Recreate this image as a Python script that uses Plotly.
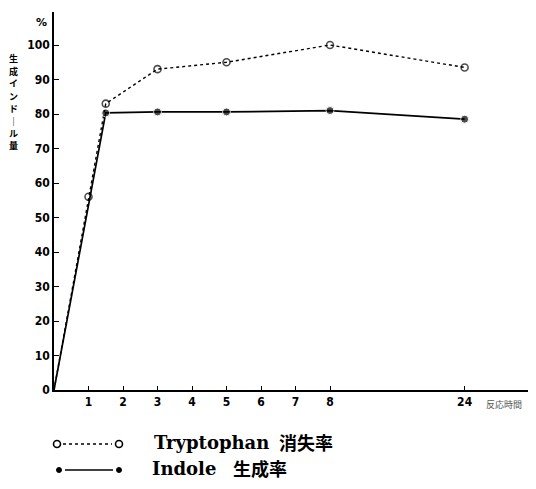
import plotly.graph_objects as go

# ---- data ----
hours_trp = [0, 1, 1.5, 3, 5, 8, 24]
trp_loss = [0, 56, 83, 93, 95, 100, 93.5]          # Tryptophan 消失率 (%)
hours_ind = [0, 1.5, 3, 5, 8, 24]
ind_form = [0, 80.3, 80.6, 80.6, 81, 78.5]          # Indole 生成率 (%)
x_ticks = [1, 2, 3, 4, 5, 6, 7, 8, 24]
y_ticks = [0, 10, 20, 30, 40, 50, 60, 70, 80, 90, 100]
y_title = "生成インド｜ル量"

# broken time axis: beyond 8 h the scale is compressed
def pos(h):
    return h if h <= 8 else 8 + (h - 8) / 4.1

OFF = 8                       # default page body margin
W, H = 536 - 2 * OFF, 489 - 2 * OFF
# plot area in page pixels: x 54..528, y 12..390
L, T = 54 - OFF, 12 - OFF
R = 0
B = H - (390 - OFF)
pw, ph = W - L - R, H - T - B

fig = go.Figure()
fig.add_trace(go.Scatter(
    x=[pos(h) for h in hours_trp], y=trp_loss, mode="lines+markers",
    line=dict(color="black", width=1.4, dash="dot"),
    marker=dict(symbol="circle-open", size=[0] + [7] * (len(hours_trp) - 1),
                color="black", line=dict(width=1.6)),
    showlegend=False))
fig.add_trace(go.Scatter(
    x=[pos(h) for h in hours_ind], y=ind_form, mode="lines+markers",
    line=dict(color="black", width=1.7),
    marker=dict(symbol="circle", size=[0] + [8] * (len(hours_ind) - 1), color="black"),
    showlegend=False))

tf = dict(family="DejaVu Sans Condensed", size=12, color="black", weight="bold")
fig.update_xaxes(range=[0, (528 - 54) / 34.5], tickvals=[pos(h) for h in x_ticks],
                 ticktext=[str(h) for h in x_ticks], ticks="inside", ticklen=4,
                 tickcolor="black", showline=True, linecolor="black", linewidth=1.5,
                 showgrid=False, zeroline=False, tickfont=tf)
fig.update_yaxes(range=[0, (390 - 12) / 3.45], tickvals=y_ticks, ticks="inside", ticklen=5,
                 tickcolor="black", showline=True, linecolor="black", linewidth=1.5,
                 showgrid=False, zeroline=False, tickfont=tf)

def px_x(p):
    return (p - OFF - L) / pw

def px_y(p):
    return (H - B - (p - OFF)) / ph

def note(xp, yp, text, font, xanchor="center"):
    return dict(x=px_x(xp), y=px_y(yp), xref="paper", yref="paper", text=text,
                showarrow=False, xanchor=xanchor, yanchor="middle", font=font)

ann = []
ann.append(note(41, 22, "<b>%</b>", dict(family="DejaVu Sans", size=11, color="black")))
for i, ch in enumerate(y_title):
    ann.append(note(13, 59 + i * 12.4, "<b>" + ch + "</b>",
                    dict(family="Noto Sans CJK JP", size=9, color="black")))
ann.append(note(484, 404, "反応時間", dict(family="Noto Sans CJK JP", size=9, color="#555"),
                xanchor="left"))
lat = dict(family="DejaVu Serif", size=18, color="black")
cjk = dict(family="Noto Sans CJK JP", size=18, color="black")
ann.append(note(152, 442, "<b>Tryptophan</b>", lat, xanchor="left"))
ann.append(note(277, 442, "<b>消失率</b>", cjk, xanchor="left"))
ann.append(note(150, 468, "<b>Indole</b>", lat, xanchor="left"))
ann.append(note(231, 468, "<b>生成率</b>", cjk, xanchor="left"))

shapes = []
# legend samples
shapes.append(dict(type="line", xref="paper", yref="paper", x0=px_x(63), x1=px_x(112),
                   y0=px_y(444), y1=px_y(444), line=dict(color="black", width=1.5, dash="dot")))
for cx in (57, 119):
    shapes.append(dict(type="circle", xref="paper", yref="paper",
                       x0=px_x(cx - 3.5), x1=px_x(cx + 3.5), y0=px_y(447.5), y1=px_y(440.5),
                       line=dict(color="black", width=1.6)))
shapes.append(dict(type="line", xref="paper", yref="paper", x0=px_x(65), x1=px_x(113),
                   y0=px_y(470), y1=px_y(470), line=dict(color="black", width=1.6)))
for cx in (59, 119):
    shapes.append(dict(type="circle", xref="paper", yref="paper", fillcolor="black",
                       x0=px_x(cx - 2.5), x1=px_x(cx + 2.5), y0=px_y(472.5), y1=px_y(467.5),
                       line=dict(color="black", width=1)))

fig.update_layout(width=W, height=H, margin=dict(l=L, r=R, t=T, b=B),
                  paper_bgcolor="white", plot_bgcolor="white",
                  annotations=ann, shapes=shapes)

fig.write_html("out.html")
